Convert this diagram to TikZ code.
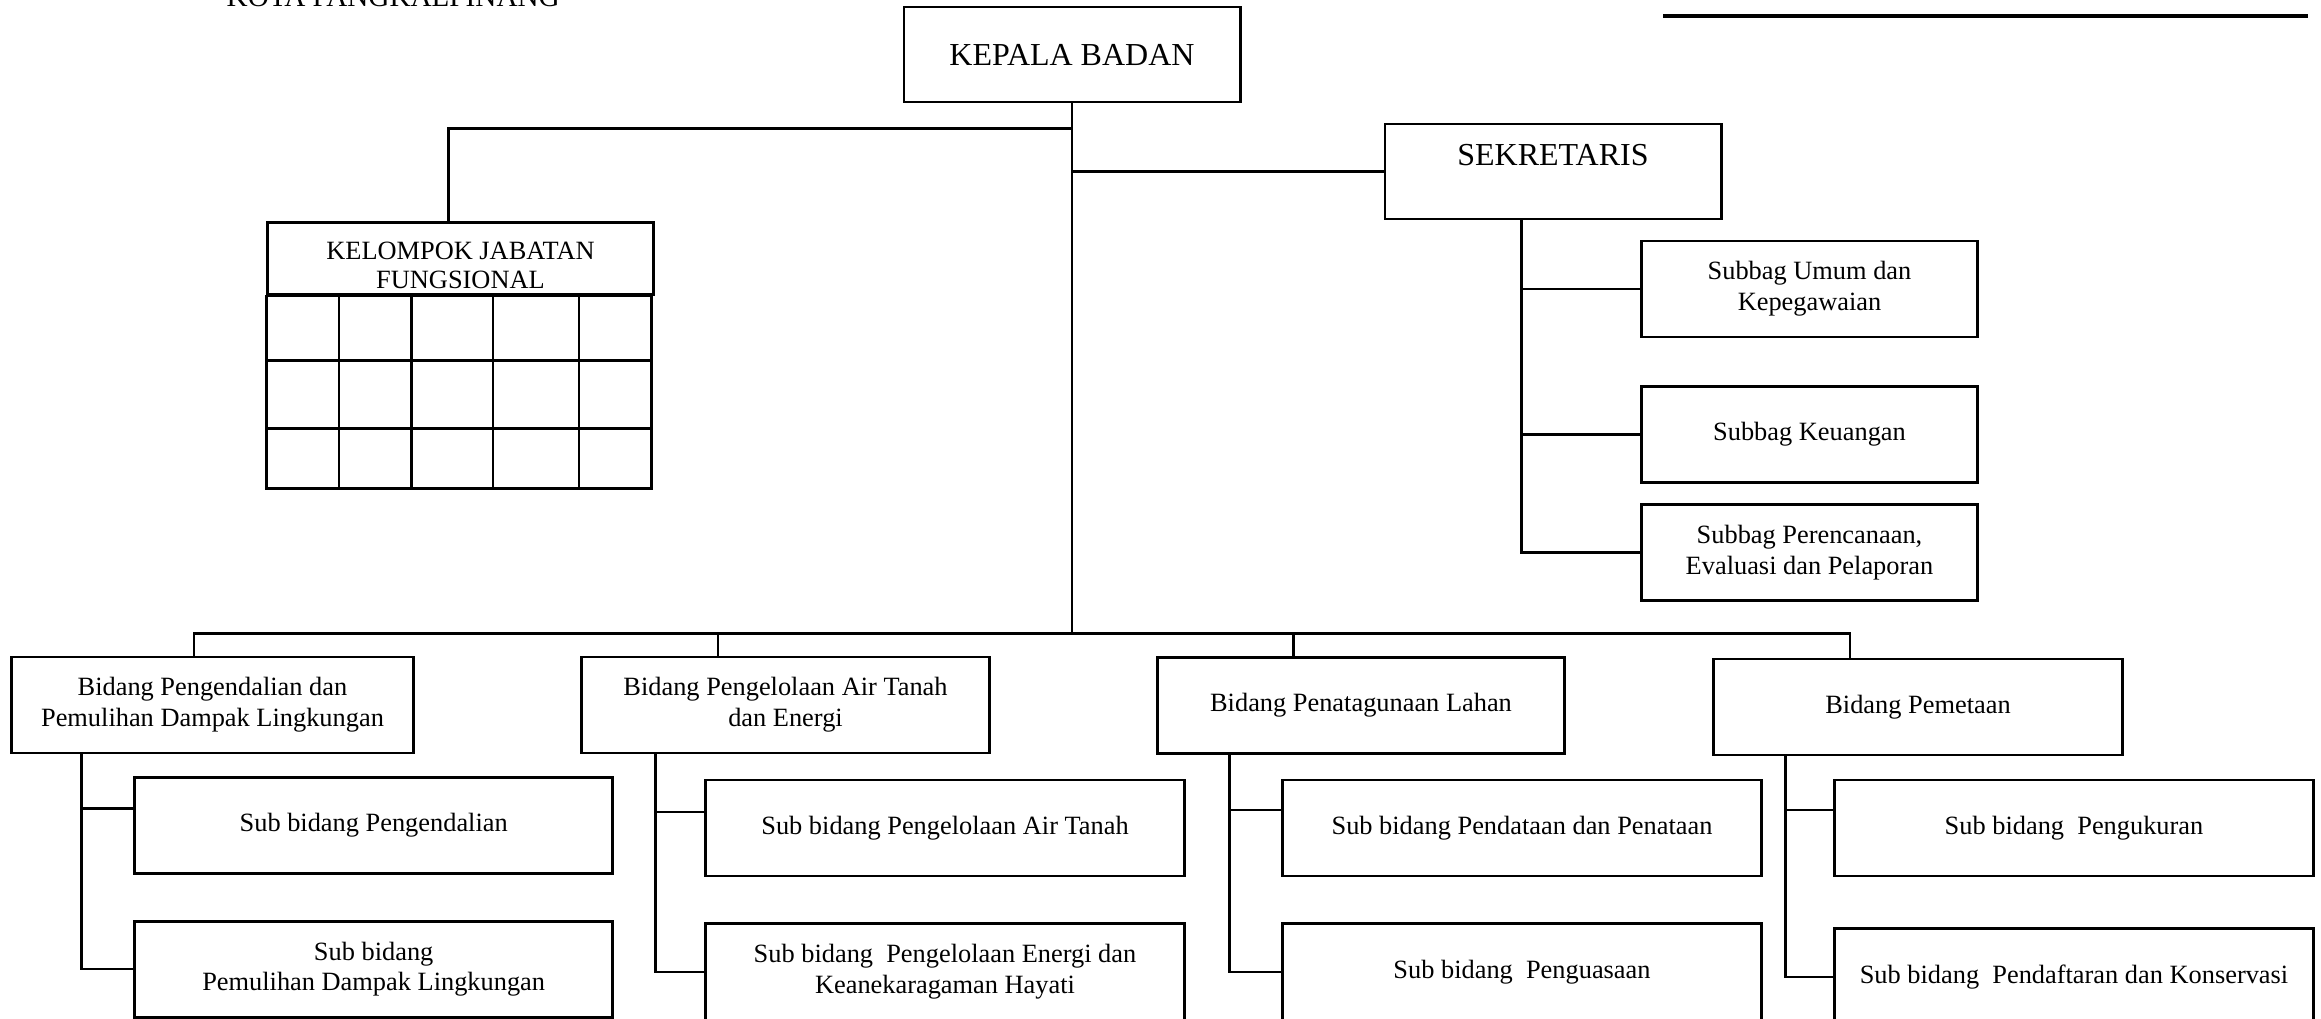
\documentclass[tikz,border=0pt]{standalone}
\usepackage{fontspec}
\setmainfont{Liberation Serif}
\usetikzlibrary{positioning}
\tikzset{
headbox/.style={
  draw=black,
  line width=0.8pt,
  inner sep=0pt,
  minimum width=3.36cm,
  minimum height=0.95cm,
  font=\fontsize{9.1}{11}\selectfont,
  }
}
\tikzset{
unitbox/.style={
  draw=black,
  line width=0.8pt,
  inner sep=0pt,
  align=center,
  minimum height=0.96cm,
  font=\fontsize{7.5}{8.8}\selectfont,
  }
}
\tikzset{
myline/.style={
  line width=0.7pt,
  }
}

\begin{document}
\begin{tikzpicture}[x=0.01cm,y=-0.01cm]
    \path[fill=white, use as bounding box] (0,0) rectangle (2321,1018);

    % head part
    \node[anchor=base west, inner sep=0pt, font=\fontsize{8.3}{10}\selectfont] (kota) at (226,6) {KOTA PANGKALPINANG};
    \draw[line width=0.9pt] (1663,16) -- (2308,16);
    \node[headbox] (kepala) at (1072,54.5) {KEPALA BADAN};
    \node[headbox, text depth=0.33cm] (sek) at (1553,171.5) {SEKRETARIS};

    % functional group
    \node[unitbox, minimum width=3.85cm, minimum height=0.72cm, font=\fontsize{7.5}{8.2}\selectfont] (kjf) at (460.5,258.8) {\rule{0pt}{0.3cm}KELOMPOK JABATAN\\FUNGSIONAL};
    \draw[myline] (kjf.south west) rectangle ++(385,192.3);
    \foreach \y in {64.3,132.3}
        \draw[myline] (kjf.south west) ++(0,\y) -- ++(385,0);
    \foreach \x in {72.5,145,226.5,312.5}
        \draw[myline] (kjf.south west) ++(\x,0) -- ++(0,192.3);

    % secretariat part
    \node[unitbox, minimum width=3.36cm] (umum) at (1809.5,289) {Subbag Umum dan\\Kepegawaian};
    \node[unitbox, minimum width=3.36cm, below=0.465cm of umum] (keu) {Subbag Keuangan};
    \node[unitbox, minimum width=3.36cm, below=0.19cm of keu] (renc) {Subbag Perencanaan,\\Evaluasi dan Pelaporan};

    % bidang part
    \node[unitbox, minimum width=4.01cm] (bid1) at (212.5,705) {Bidang Pengendalian dan\\Pemulihan Dampak Lingkungan};
    \node[unitbox, minimum width=4.07cm] (bid2) at (785.5,705) {Bidang Pengelolaan Air Tanah\\dan Energi};
    \node[unitbox, minimum width=4.07cm] (bid3) at (1361,705.5) {Bidang Penatagunaan Lahan};
    \node[unitbox, minimum width=4.08cm] (bid4) at (1918,707) {Bidang Pemetaan};

    % sub bidang part
    \node[unitbox, minimum width=4.78cm] (sub1a) at (373.7,825.3) {Sub bidang Pengendalian};
    \node[unitbox, minimum width=4.78cm, below=0.45cm of sub1a] (sub1b) {Sub bidang\\Pemulihan Dampak Lingkungan};
    \node[unitbox, minimum width=4.78cm] (sub2a) at (945,828) {Sub bidang Pengelolaan Air Tanah};
    \node[unitbox, minimum width=4.78cm, below=0.45cm of sub2a] (sub2b) {Sub bidang~ Pengelolaan Energi dan\\Keanekaragaman Hayati};
    \node[unitbox, minimum width=4.78cm] (sub3a) at (1522,828) {Sub bidang Pendataan dan Penataan};
    \node[unitbox, minimum width=4.78cm, below=0.45cm of sub3a] (sub3b) {Sub bidang~ Penguasaan};
    \node[unitbox, minimum width=4.78cm] (sub4a) at (2074,828) {Sub bidang~ Pengukuran};
    \node[unitbox, minimum width=4.78cm, below=0.5cm of sub4a] (sub4b) {Sub bidang~ Pendaftaran dan Konservasi};

    % head edges
    \coordinate (bus) at (1072,633.5);
    \coordinate (kd) at ([xshift=-0.12cm]kjf.north);
    \draw[myline] (kepala) -- (bus);
    \draw[myline] (kd) |- ([yshift=-0.25cm]kepala.south);
    \draw[myline] (sek.west) -- (sek.west -| kepala.south);

    % secretariat edges
    \coordinate (sekv) at ([xshift=-0.315cm]sek.south);
    \draw[myline] (sekv) |- (renc.west);
    \draw[myline] (sekv |- umum.west) -- (umum.west);
    \draw[myline] (sekv |- keu.west) -- (keu.west);

    % bus edges
    \coordinate (d1) at ([xshift=-0.185cm]bid1.north);
    \coordinate (d2) at ([xshift=-0.675cm]bid2.north);
    \coordinate (d3) at ([xshift=-0.673cm]bid3.north);
    \coordinate (d4) at ([xshift=-0.68cm]bid4.north);
    \draw[myline] (d1) |- (bus) -| (d4);
    \draw[myline] (d2) -- (d2 |- bus);
    \draw[myline] (d3) -- (d3 |- bus);

    % sub bidang edges
    \coordinate (v1) at ([xshift=0.71cm]bid1.south west);
    \coordinate (v2) at ([xshift=0.75cm]bid2.south west);
    \coordinate (v3) at ([xshift=0.735cm]bid3.south west);
    \coordinate (v4) at ([xshift=0.73cm]bid4.south west);
    \coordinate (in1) at ([yshift=0.17cm]sub1a.west);
    \coordinate (in2) at ([yshift=0.16cm]sub2a.west);
    \coordinate (in3) at ([yshift=0.18cm]sub3a.west);
    \coordinate (in4) at ([yshift=0.18cm]sub4a.west);
    \draw[myline] (v1) |- (sub1b.west);
    \draw[myline] (v2) |- (sub2b.west);
    \draw[myline] (v3) |- (sub3b.west);
    \draw[myline] (v4) |- (sub4b.west);
    \draw[myline] (v1 |- in1) -- (in1);
    \draw[myline] (v2 |- in2) -- (in2);
    \draw[myline] (v3 |- in3) -- (in3);
    \draw[myline] (v4 |- in4) -- (in4);
\end{tikzpicture}
\end{document}
